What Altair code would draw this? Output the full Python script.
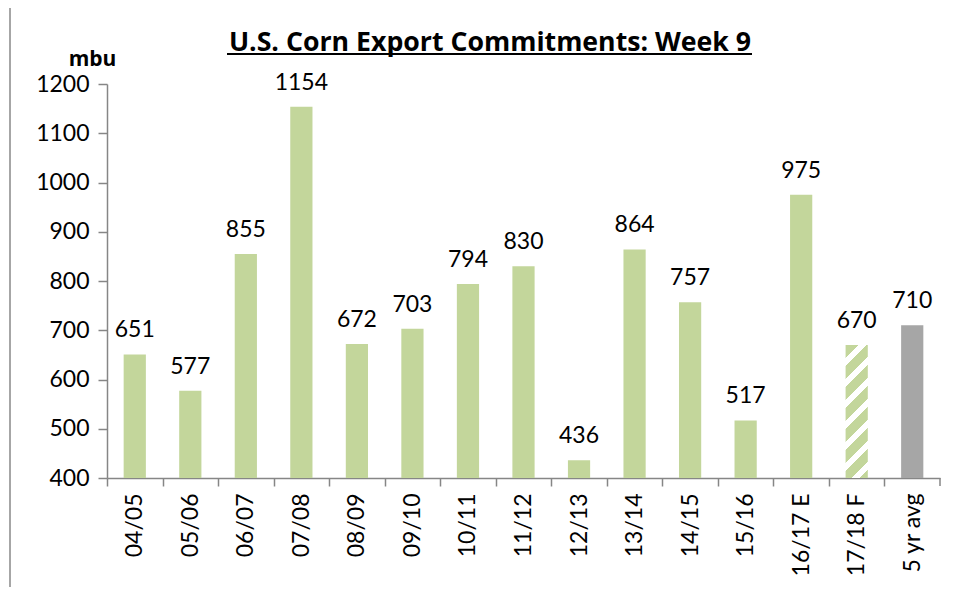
import altair as alt
import pandas as pd

seasons = ["04/05", "05/06", "06/07", "07/08", "08/09", "09/10", "10/11", "11/12",
           "12/13", "13/14", "14/15", "15/16", "16/17 E", "17/18 F", "5 yr avg"]
values = [651, 577, 855, 1154, 672, 703, 794, 830, 436, 864, 757, 517, 975, 670, 710]
kinds = ["actual"] * 13 + ["forecast", "average"]
y_ticks = [400, 500, 600, 700, 800, 900, 1000, 1100, 1200]
title_text = "U.S. Corn Export Commitments: Week 9"
unit_text = "mbu"

df = pd.DataFrame({"season": seasons, "value": values, "kind": kinds})

W, H = 833, 394
STEP = W / len(seasons)
P_IN = 0.6
GREEN = "#c3d69b"
GRAY = "#a6a6a6"
AXIS = "#868686"
FONT = "Lato"
BOLD_FONT = "Open Sans"

# diagonal hatch for the forecast bar, built as a hard-stop linear gradient
bw = STEP * (1 - P_IN)
bh = H * (values[13] - y_ticks[0]) / (y_ticks[-1] - y_ticks[0])
L = bw + bh
a = L / (bw * bw + bh * bh)
period, green_part = 21.0, 12.5
stops = []
k = 0
while k * period < L:
    s0 = k * period / L
    s1 = min((k * period + green_part) / L, 1)
    s2 = min((k + 1) * period / L, 1)
    stops += [{"offset": s0, "color": GREEN}, {"offset": s1, "color": GREEN},
              {"offset": s1, "color": "white"}, {"offset": s2, "color": "white"}]
    k += 1
hatch = alt.LinearGradient(gradient="linear", x1=0, y1=0, x2=a * bw, y2=a * bh,
                           stops=[alt.GradientStop(**s) for s in stops])

x_enc = alt.X("season:N", sort=seasons,
              scale=alt.Scale(paddingInner=P_IN, paddingOuter=P_IN / 2),
              axis=alt.Axis(title=None, labelAngle=-90, labelFontSize=23, labelFont=FONT,
                            labelColor="black", labelPadding=7, tickSize=8,
                            tickOffset=-STEP / 2, labelOffset=STEP / 2,
                            domainColor=AXIS, tickColor=AXIS, domainWidth=1.5, tickWidth=1.5))
y_enc = alt.Y("value:Q",
              scale=alt.Scale(domain=[y_ticks[0], y_ticks[-1]], zero=False, nice=False),
              axis=alt.Axis(values=y_ticks, format="d", grid=False, labelFontSize=23,
                            labelFont=FONT, labelColor="black", labelPadding=9, tickSize=9,
                            domainColor=AXIS, tickColor=AXIS, domainWidth=1.5, tickWidth=1.5,
                            title=unit_text, titleAngle=0, titleX=-15, titleY=-19,
                            titleAlign="center", titleBaseline="alphabetic",
                            titleFont=BOLD_FONT, titleFontSize=21, titleFontWeight="bold",
                            titleColor="black"))

base = alt.Chart(df)
bars = base.transform_filter(alt.datum.kind == "actual").mark_bar(color=GREEN).encode(
    x=x_enc, y=y_enc, y2=alt.datum(y_ticks[0]))
fbar = base.transform_filter(alt.datum.kind == "forecast").mark_bar(fill=hatch).encode(
    x=x_enc, y=y_enc, y2=alt.datum(y_ticks[0]))
abar = base.transform_filter(alt.datum.kind == "average").mark_bar(color=GRAY).encode(
    x=x_enc, y=y_enc, y2=alt.datum(y_ticks[0]))
labels = base.mark_text(baseline="alphabetic", dy=-17, fontSize=23, font=FONT,
                        color="black").encode(x=x_enc, y=y_enc, text="value:Q")

tdf = pd.DataFrame({"t": [title_text]})
title = alt.Chart(tdf).mark_text(fontSize=26.7, font=BOLD_FONT, fontWeight="bold",
                                 align="center", baseline="alphabetic", color="black").encode(
    x=alt.value(383), y=alt.value(-33), text="t:N")
underline = alt.Chart(tdf).mark_rule(color="black", strokeWidth=2).encode(
    x=alt.value(120), x2=alt.value(645), y=alt.value(-30))
end_tick = alt.Chart(tdf).mark_rule(color=AXIS, strokeWidth=1.5).encode(
    x=alt.value(W), y=alt.value(H), y2=alt.value(H + 8))
frame = alt.Chart(tdf).mark_rule(color="#a6a6a6", strokeWidth=2).encode(
    x=alt.value(-97), y=alt.value(-76), y2=alt.value(H + 109))

chart = alt.layer(bars, fbar, abar, labels, title, underline, end_tick, frame).properties(
    width=W, height=H,
    background="white",
    autosize=alt.AutoSizeParams(type="none"),
    padding={"left": 99, "top": 76, "right": 13, "bottom": 109},
).configure_view(stroke=None)

chart.save("out.html", embed_options={"renderer": "svg", "actions": False})
